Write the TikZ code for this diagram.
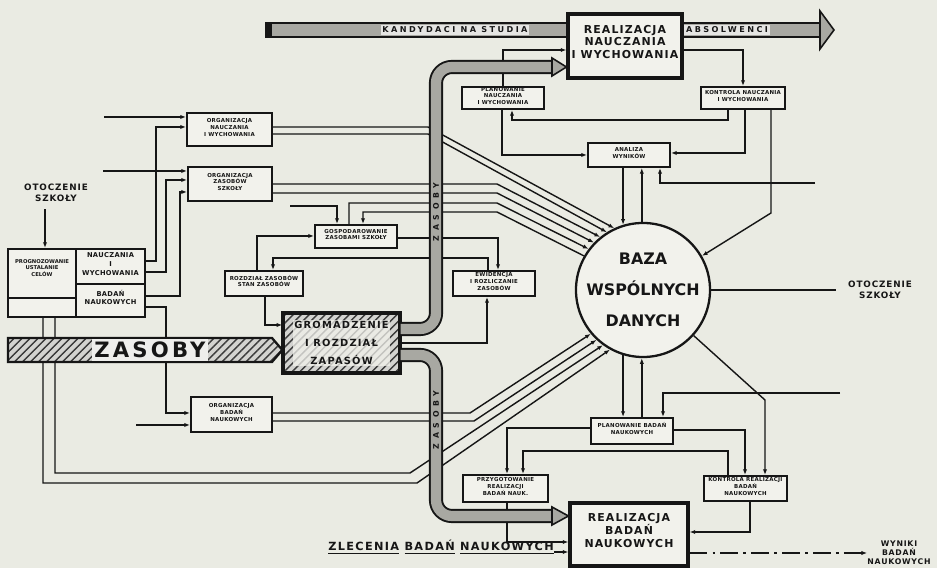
\documentclass[tikz,border=0pt]{standalone}
\usepackage{fontspec}
\setmainfont{DejaVu Sans}
\usetikzlibrary{patterns,patterns.meta,arrows.meta,calc,fit}

\definecolor{paper}{RGB}{234,235,227}
\definecolor{ink}{RGB}{22,22,22}
\definecolor{bandgray}{RGB}{168,168,162}
\definecolor{boxfill}{RGB}{242,242,236}

\tikzset{
  ln/.style={draw=ink, line width=0.8pt},
  arr/.style={ln, -{Latex[length=3.2pt,width=2.4pt]}},
  sbox/.style={draw=ink, line width=1.1pt, fill=boxfill, inner sep=0pt, align=center, text=ink,
    font=\fontsize{3.1}{3.8}\selectfont\bfseries\addfontfeature{LetterSpace=5}},
  cellbox/.style={sbox, font=\fontsize{3.8}{5}\selectfont\bfseries\addfontfeature{LetterSpace=5}},
  bbox/.style={draw=ink, line width=1.8pt, fill=boxfill, inner sep=0pt, align=center, text=ink,
    font=\fontsize{6.2}{7.3}\selectfont\bfseries\addfontfeature{LetterSpace=10}},
  lbl/.style={text=ink, align=center, inner sep=0pt,
    font=\fontsize{5}{6}\selectfont\bfseries\addfontfeature{LetterSpace=10}},
  bandtext/.style={text=ink, inner sep=1pt, fill=bandgray!30,
    font=\fontsize{4.6}{5}\selectfont\bfseries\addfontfeature{LetterSpace=30}},
  band/.style={draw=ink, line width=1.1pt, double=bandgray, double distance=5.8pt, rounded corners=9pt},
  tip/.style={draw=ink, line width=0.9pt, fill=bandgray, line join=miter},
  hatch/.style={preaction={fill=bandgray!50}, pattern={Lines[angle=45,distance=3.2pt,line width=0.8pt]}, pattern color=ink!85},
}

\begin{document}
\begin{tikzpicture}[x=0.567pt, y=-0.567pt]
\fill[paper] (0,0) rectangle (937,568);
\useasboundingbox (0,0) rectangle (937,568);

% ---------- main process boxes ----------
\node[bbox, fit={(568,14) (682,78)}] (realN) {REALIZACJA\\NAUCZANIA\\I WYCHOWANIA};
\node[bbox, fit={(570,503) (688,566)}] (realB) {REALIZACJA\\BADAŃ\\NAUKOWYCH};

% ---------- small function boxes ----------
\node[sbox, fit={(187,113) (272,146)}] (orgN) {ORGANIZACJA\\NAUCZANIA\\I WYCHOWANIA};
\node[sbox, fit={(188,167) (272,201)}] (orgZ) {ORGANIZACJA\\ZASOBÓW\\SZKOŁY};
\node[sbox, fit={(191,397) (272,432)}] (orgB) {ORGANIZACJA\\BADAŃ\\NAUKOWYCH};
\node[sbox, fit={(315,225) (397,248)}] (gosp) {GOSPODAROWANIE\\ZASOBAMI SZKOŁY};
\node[sbox, fit={(225,271) (303,296)}] (stan) {ROZDZIAŁ ZASOBÓW\\STAN ZASOBÓW};
\node[sbox, fit={(453,271) (535,296)}] (ewid) {EWIDENCJA\\I ROZLICZANIE\\ZASOBÓW};
\node[sbox, fit={(462,87) (544,109)}] (planN) {PLANOWANIE\\NAUCZANIA\\I WYCHOWANIA};
\node[sbox, fit={(701,87) (785,109)}] (kontN) {KONTROLA NAUCZANIA\\I WYCHOWANIA};
\node[sbox, fit={(588,143) (670,167)}] (anal) {ANALIZA\\WYNIKÓW};
\node[sbox, fit={(591,418) (673,444)}] (planB) {PLANOWANIE BADAŃ\\NAUKOWYCH};
\node[sbox, fit={(463,475) (548,502)}] (przyg) {PRZYGOTOWANIE\\REALIZACJI\\BADAŃ NAUK.};
\node[sbox, fit={(704,476) (787,501)}] (kontB) {KONTROLA REALIZACJI\\BADAŃ\\NAUKOWYCH};

% ---------- goal-setting block on the left ----------
\node[cellbox, fit={(8,249) (76,317)}] (prog) {};
\node[text=ink, align=center, font=\fontsize{3}{3.8}\selectfont\bfseries] at (42,268) {PROGNOZOWANIE\\USTALANIE\\CELÓW};
\draw[ink, line width=1.1pt] (prog.west |- 0,298) -- (prog.east |- 0,298);
\node[cellbox, fit={(76,249) (145,284)}] (celN) {NAUCZANIA\\I\\WYCHOWANIA};
\node[cellbox, fit={(76,284) (145,317)}] (celB) {BADAŃ\\NAUKOWYCH};

% ---------- stock of resources ----------
\node[draw=ink, line width=1.8pt, hatch, inner sep=0pt, fit={(283,313) (400,373)}] (grom) {};
\node[text=ink, fill=boxfill, fill opacity=0.75, text opacity=1, align=center, inner sep=1pt,
  font=\fontsize{5.6}{10}\selectfont\bfseries\addfontfeature{LetterSpace=12}] at (grom.center) {GROMADZENIE\\I ROZDZIAŁ\\ZAPASÓW};

% ---------- shared database ----------
\node[circle, draw=ink, line width=1.3pt, fill=boxfill, minimum size=76pt, inner sep=0pt] (baza) at (643,290) {};
\node[text=ink, align=center, font=\fontsize{9}{17.6}\selectfont\bfseries] at (baza.center) {BAZA\\WSPÓLNYCH\\DANYCH};

% ---------- outer labels ----------
\node[lbl] (otL) at (56,193) {OTOCZENIE\\SZKOŁY};
\node[lbl, outer sep=7pt] (otR) at (880,290) {OTOCZENIE\\SZKOŁY};
\node[lbl, font=\fontsize{4.4}{5.2}\selectfont\bfseries\addfontfeature{LetterSpace=10}] (wyn) at (899,553) {WYNIKI\\BADAŃ\\NAUKOWYCH};
\node[lbl, font=\fontsize{6.4}{7}\selectfont\bfseries\addfontfeature{LetterSpace=12}] (zlec) at (441,547) {\underline{ZLECENIA} \underline{BADAŃ} \underline{NAUKOWYCH}};

% ---------- free ends ----------
\coordinate (inN) at (104,117);
\coordinate (inZ) at (103,171);
\coordinate (inB) at (136,425);
\coordinate (inG) at (290,206);
\coordinate (inA) at (815,183);
\coordinate (inP) at (840,393);

% ---------- connectors, left ----------
\draw[arr, shorten <=4pt] (otL.south -| 45,0) -- (prog.north -| 45,0);
\draw[arr] (inN) -- (orgN.west |- inN);
\draw[arr] (inZ) -- (orgZ.west |- inZ);
\draw[arr] (inB) -- (orgB.west |- inB);
\draw[arr] (celN.east |- 0,261) -| (156,127) -- (orgN.west |- 0,127);
\draw[arr] (celN.east |- 0,272) -| (166,180) -- (orgZ.west |- 0,180);
\draw[arr] (celB.east |- 0,296) -| (180,192) -- (orgZ.west |- 0,192);
\draw[arr] (celB.east |- 0,307) -| (166,413) -- (orgB.west |- 0,413);

% ---------- connectors into the database, upper left ----------
\draw[arr] (orgN.east |- 0,127) -- (428,127) -- (baza.115);
\draw[arr] (orgN.east |- 0,134) -- (428,134) -- (baza.122);
\draw[arr] (orgZ.east |- 0,184) -- (497,184) -- (baza.129);
\draw[arr] (orgZ.east |- 0,193) -- (497,193) -- (baza.136);
\draw[arr] (gosp.north -| 349,0) -- (349,203) -- (497,203) -- (baza.143);
\draw[arr] (baza.150) -- (497,212) -- (363,212) -- (gosp.north -| 363,0);
\draw[arr] (inG) -| (gosp.north -| 337,0);

% ---------- resource management ----------
\draw[arr] (stan.north -| 257,0) |- (gosp.west |- 0,236);
\draw[arr] (gosp.east |- 0,238) -| (ewid.north -| 498,0);
\draw[arr] (ewid.north -| 488,0) |- (273,258) -- (stan.north -| 273,0);
\draw[arr] (stan.south -| 265,0) |- (grom.west |- 0,325);
\draw[arr] (grom.east |- 0,343) -| (ewid.south -| 487,0);

% ---------- connectors into the database, lower left ----------
\draw[arr] (orgB.east |- 0,413) -- (470,413) -- (baza.220);
\draw[arr] (orgB.east |- 0,421) -- (474,421) -- (baza.227);
\draw[arr] (prog.south -| 55,0) -- (55,473) -- (410,473) -- (baza.234);
\draw[arr] (prog.south -| 43,0) -- (43,483) -- (417,483) -- (baza.241);

% ---------- teaching loop (top) ----------
\draw[arr] (planN.north -| 503,0) |- (realN.west |- 0,50);
\draw[arr] (realN.east |- 0,50) -| (kontN.north -| 743,0);
\draw[arr] (kontN.south -| 728,0) |- (512,120) -- (planN.south -| 512,0);
\draw[arr] (planN.south -| 502,0) |- (anal.west |- 0,155);
\draw[arr] (kontN.south -| 745,0) |- (anal.east |- 0,153);
\draw[arr] (kontN.south -| 771,0) -- (771,213) -- (baza.30);
\draw[arr] (inA) -| (anal.south -| 660,0);
\draw[arr] (baza.107 |- anal.south) -- (baza.107);
\draw[arr] (baza.91) -- (baza.91 |- anal.south);
\draw[ln] (baza.east) -- (otR.west);

% ---------- research loop (bottom) ----------
\draw[arr] (baza.253) -- (baza.253 |- planB.north);
\draw[arr] (baza.269 |- planB.north) -- (baza.269);
\draw[arr] (inP) -| (planB.north -| 663,0);
\draw[arr] (planB.west |- 0,428) -| (przyg.north -| 507,0);
\draw[arr] (kontB.north -| 728,0) |- (523,451) -- (przyg.north -| 523,0);
\draw[arr] (planB.east |- 0,430) -| (kontB.north -| 745,0);
\draw[arr] (baza.318) -- (765,400) -- (kontB.north -| 765,0);
\draw[arr] (kontB.south -| 750,0) |- (realB.east |- 0,532);
\draw[arr] (przyg.south -| 507,0) |- (realB.west |- 0,542);
\draw[arr] (zlec.east |- 0,552) -- (realB.west |- 0,552);
\draw[arr, dash pattern=on 10pt off 3pt on 1.5pt off 3pt] (realB.east |- 0,553) -- (wyn.west);

% ---------- material flows (wide bands) ----------
\path[draw=ink, line width=1.3pt, hatch] (8,338) -- (272,338) -- (grom.west |- 0,350) -- (272,362) -- (8,362) -- cycle;
\node[text=ink, fill=bandgray!20, inner sep=1.5pt, font=\fontsize{12}{12}\selectfont\bfseries\addfontfeature{LetterSpace=15}] at (150,350) {ZASOBY};

\draw[band, rounded corners=0pt, double distance=7.2pt] (267,30) -- (realN.west |- 0,30);
\fill[ink] (265,22) rectangle (272,38);
\node[bandtext] at (455,30) {KANDYDACI NA STUDIA};
\draw[band, rounded corners=0pt, double distance=7.2pt] (realN.east |- 0,30) -- (822,30);
\draw[tip] (820,11) -- (834,30) -- (820,49) -- cycle;
\node[bandtext] at (727,30) {ABSOLWENCI};

\draw[band] (grom.east |- 0,329) -- (436,329) -- (436,67) -- (554,67);
\draw[tip] (552,58) -- (realN.west |- 0,67) -- (552,76) -- cycle;
\node[bandtext, rotate=90, fill=none, font=\fontsize{4.4}{5}\selectfont\bfseries\addfontfeature{LetterSpace=60}] at (436,212) {ZASOBY};

\draw[band] (grom.east |- 0,355) -- (436,355) -- (436,516) -- (554,516);
\draw[tip] (552,507) -- (realB.west |- 0,516) -- (552,525) -- cycle;
\node[bandtext, rotate=90, fill=none, font=\fontsize{4.4}{5}\selectfont\bfseries\addfontfeature{LetterSpace=60}] at (436,420) {ZASOBY};
\end{tikzpicture}
\end{document}
